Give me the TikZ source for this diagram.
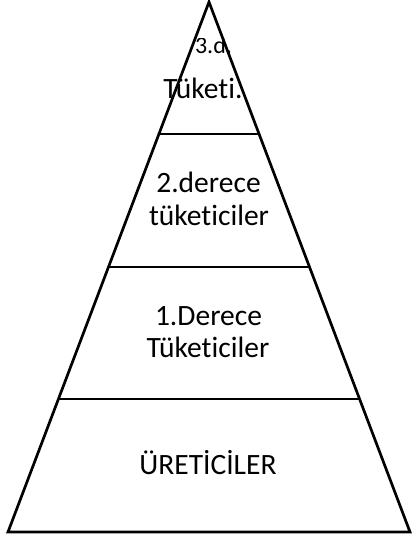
\documentclass[tikz,border=0pt]{standalone}
\usepackage{fontspec}
\setmainfont{Carlito}[Ligatures={NoCommon,NoRequired,NoContextual}]
\begin{document}
\begin{tikzpicture}[x=1pt,y=-1pt,
  edge/.style={line width=2.7pt,line join=miter},
  lbl/.style={anchor=base,inner sep=0pt,font=\fontsize{29.5}{32}\selectfont},
  small/.style={anchor=base,inner sep=0pt,font=\fontsize{24}{28}\selectfont}]
\useasboundingbox (0,0) rectangle (412,537);
\coordinate (apex) at (209,2);
\coordinate (bl) at (8,532);
\coordinate (br) at (410,532);
\coordinate (l1) at (159.5,134);
\coordinate (r1) at (258.5,134);
\coordinate (l2) at (108.5,267);
\coordinate (r2) at (309.5,267);
\coordinate (l3) at (58.5,399);
\coordinate (r3) at (359.5,399);
\draw[edge] (apex) -- (bl) -- (br) -- cycle;
\draw[edge] (l1) -- (r1);
\draw[edge] (l2) -- (r2);
\draw[edge] (l3) -- (r3);
\begin{scope}
\clip (150,39) rectangle (260,70);
\node[small] (t3a) at (213.5,54) {3.d.};
\end{scope}
\node[lbl] (t3b) at (203,99) {Tüketi.};
\node[lbl] (t2a) at (208.5,193) {2.derece};
\node[lbl] (t2b) at (209,225) {tüketiciler};
\node[lbl] (t1a) at (208.5,325) {1.Derece};
\node[lbl] (t1b) at (208,357) {Tüketiciler};
\node[lbl] (t0) at (208,474) {ÜRETİCİLER};
\end{tikzpicture}
\end{document}
